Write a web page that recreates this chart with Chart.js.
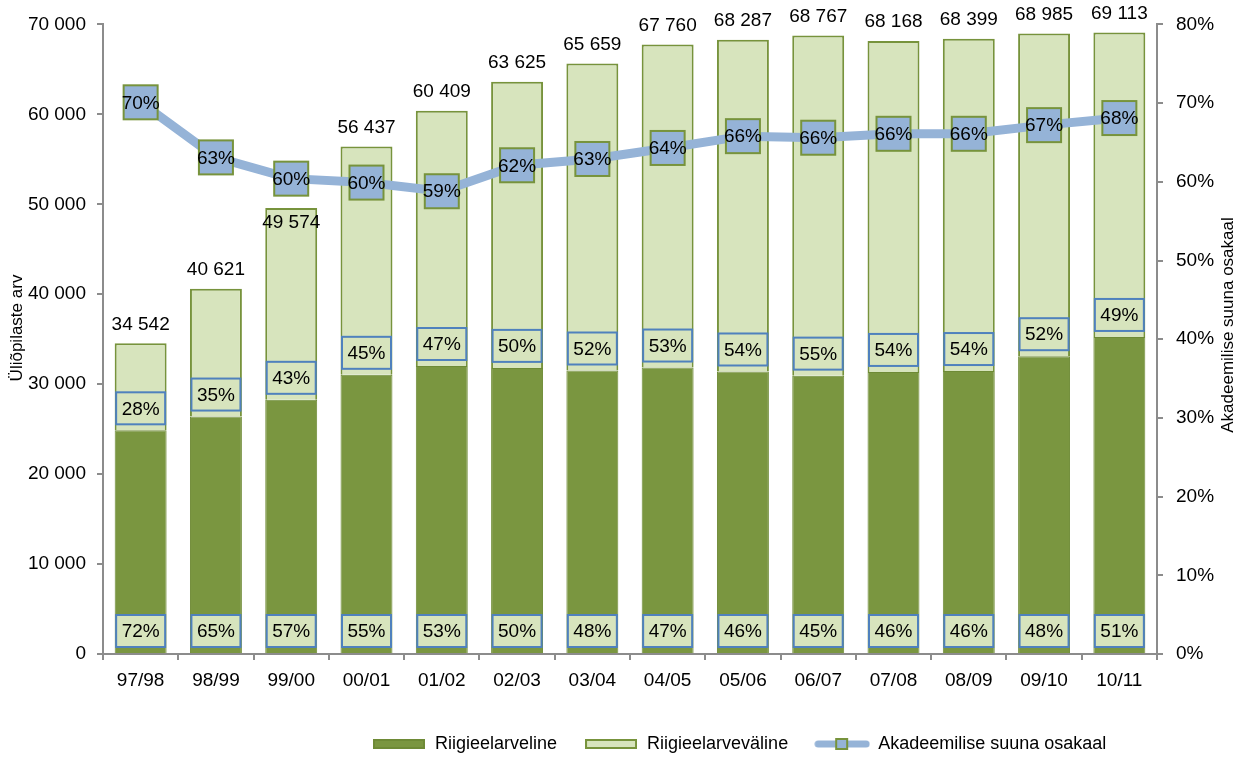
<!DOCTYPE html>
<html>
<head>
<meta charset="utf-8">
<script src="https://cdn.jsdelivr.net/npm/chart.js@4.4.1/dist/chart.umd.min.js"></script>
<style>
  body { margin: 0; background: #fff; }
  #wrap { width: 1245px; height: 757px; }
</style>
</head>
<body>
<div id="wrap"><canvas id="chart" width="1245" height="757"></canvas></div>
<script>
// Data
const years = ['97/98', '98/99', '99/00', '00/01', '01/02', '02/03', '03/04', '04/05', '05/06', '06/07', '07/08', '08/09', '09/10', '10/11'];
const riigiEelarveline = [24870, 26400, 28260, 31040, 32020, 31810, 31520, 31850, 31410, 30950, 31360, 31460, 33110, 35250];
const riigiEelarvevaline = [9672, 14221, 21314, 25397, 28389, 31815, 34139, 35910, 36877, 37817, 36808, 36939, 35875, 33863];
const akadeemilineOsakaal = [70.1, 63.1, 60.4, 59.9, 58.8, 62.1, 62.9, 64.3, 65.8, 65.6, 66.1, 66.1, 67.2, 68.1];
const leftTicks = [0, 10000, 20000, 30000, 40000, 50000, 60000, 70000];
const rightTicks = [0, 10, 20, 30, 40, 50, 60, 70, 80];

const DARK = '#7a9640';
const DARK_EDGE = '#6e8a36';
const LIGHT = '#d7e4bd';
const EDGE = '#77933c';
const BLUE = '#95b3d7';
const BOX_BLUE = '#4f81bd';
const AXIS = '#8c8c8c';
const FONT = "'Liberation Sans', Arial, sans-serif";

Chart.defaults.font.family = FONT;
Chart.defaults.font.size = 19;
Chart.defaults.color = '#000';

const fmt = v => String(Math.round(v)).replace(/\B(?=(\d{3})+(?!\d))/g, ' ');

// legend icons
function icon(w, h, draw) {
    const c = document.createElement('canvas');
    c.width = w; c.height = h;
    draw(c.getContext('2d'));
    return c;
}
const legendIcons = [
    icon(52, 10, g => { g.fillStyle = DARK; g.fillRect(0, 0, 52, 10); g.strokeStyle = DARK_EDGE; g.lineWidth = 2; g.strokeRect(1, 1, 50, 8); }),
    icon(52, 10, g => { g.fillStyle = LIGHT; g.fillRect(0, 0, 52, 10); g.strokeStyle = EDGE; g.lineWidth = 2; g.strokeRect(1, 1, 50, 8); }),
    icon(56, 12, g => {
        g.strokeStyle = BLUE; g.lineWidth = 7; g.lineCap = 'round';
        g.beginPath(); g.moveTo(4, 6); g.lineTo(52, 6); g.stroke();
        g.fillStyle = BLUE; g.fillRect(22, 1, 11, 10);
        g.strokeStyle = EDGE; g.lineWidth = 2; g.strokeRect(22, 1, 11, 10);
    })
];

function box(ctx, cx, top, w, h, fill, stroke, text) {
    ctx.fillStyle = fill;
    ctx.fillRect(cx - w / 2, top, w, h);
    ctx.strokeStyle = stroke;
    ctx.lineWidth = 2;
    ctx.strokeRect(cx - w / 2, top, w, h);
    ctx.fillStyle = '#000';
    ctx.fillText(text, cx, top + h / 2 + 1);
}

function rotatedText(ctx, text, x, y) {
    ctx.save();
    ctx.font = '17px ' + FONT;
    ctx.fillStyle = '#000';
    ctx.textAlign = 'center';
    ctx.textBaseline = 'middle';
    ctx.translate(x, y);
    ctx.rotate(-Math.PI / 2);
    ctx.fillText(text, 0, 0);
    ctx.restore();
}

const labelPlugin = {
    id: 'labels',
    afterLayout(chart) {
        // move legend row to where the reference has it
        const lg = chart.legend;
        const x0 = (lg.left + lg.options.labels.padding + lg.right - lg.lineWidths[0]) / 2;
        const dx = 372 - x0;
        lg.left += dx; lg.right += dx;
        lg.top += 6; lg.bottom += 6;
    },
    afterDatasetsDraw(chart) {
        const ctx = chart.ctx;
        ctx.save();
        ctx.font = '19px ' + FONT;
        ctx.textAlign = 'center';
        ctx.textBaseline = 'middle';
        const dark = chart.getDatasetMeta(0).data;
        const light = chart.getDatasetMeta(1).data;
        const line = chart.getDatasetMeta(2).data;
        years.forEach((y, i) => {
            const total = riigiEelarveline[i] + riigiEelarvevaline[i];
            const d = dark[i], l = light[i];
            box(ctx, d.x, d.base - 6 - 32, 49, 32, LIGHT, BOX_BLUE, Math.round(riigiEelarveline[i] / total * 100) + '%');
            box(ctx, l.x, l.base - 6 - 32, 49, 32, LIGHT, BOX_BLUE, Math.round(riigiEelarvevaline[i] / total * 100) + '%');
            ctx.fillStyle = '#000';
            // total above the bar, or inside its top when the line label is in the way
            let ty = l.y - 19;
            if (Math.abs(ty - line[i].y) < 30) ty = l.y + 15;
            ctx.fillText(fmt(total), l.x, ty);
        });
        line.forEach((p, i) => {
            box(ctx, p.x, p.y - 17, 34, 34, BLUE, EDGE, Math.round(akadeemilineOsakaal[i]) + '%');
        });
        ctx.restore();
    },
    afterDraw(chart) {
        rotatedText(chart.ctx, 'Üliõpilaste arv', 17, 328);
        rotatedText(chart.ctx, 'Akadeemilise suuna osakaal', 1228, 325);
    }
};

const axisGrid = { drawOnChartArea: false, color: AXIS, lineWidth: 2, tickLength: 6 };
const axisBorder = { color: AXIS, width: 2 };

new Chart(document.getElementById('chart'), {
    type: 'bar',
    data: {
        labels: years,
        datasets: [{
            label: 'Riigieelarveline',
            data: riigiEelarveline,
            backgroundColor: DARK,
            borderColor: DARK_EDGE,
            borderWidth: 1,
            stack: 's',
            yAxisID: 'y',
            order: 1,
            barPercentage: 0.69,
            categoryPercentage: 1
        }, {
            label: 'Riigieelarveväline',
            data: riigiEelarvevaline,
            backgroundColor: LIGHT,
            borderColor: EDGE,
            borderWidth: 2,
            stack: 's',
            yAxisID: 'y',
            order: 1,
            barPercentage: 0.69,
            categoryPercentage: 1
        }, {
            type: 'line',
            label: 'Akadeemilise suuna osakaal',
            data: akadeemilineOsakaal,
            borderColor: BLUE,
            borderWidth: 9,
            pointRadius: 0,
            pointHoverRadius: 0,
            tension: 0,
            yAxisID: 'y1',
            order: 0
        }]
    },
    options: {
        responsive: false,
        animation: false,
        layout: { padding: 0 },
        plugins: {
            tooltip: { enabled: false },
            legend: {
                position: 'bottom',
                sort: (a, b) => a.datasetIndex - b.datasetIndex,
                labels: {
                    usePointStyle: true,
                    pointStyleWidth: 54,
                    padding: 27,
                    font: { size: 18 },
                    generateLabels: chart => chart.data.datasets.map((ds, i) => ({
                        text: ds.label,
                        pointStyle: legendIcons[i],
                        datasetIndex: i,
                        fontColor: '#000',
                        lineWidth: 0,
                        hidden: false
                    }))
                }
            }
        },
        scales: {
            x: {
                stacked: true,
                offset: true,
                grid: Object.assign({ offset: true }, axisGrid),
                border: axisBorder,
                ticks: { padding: 9 },
                afterFit: s => { s.height = 48; }
            },
            y: {
                stacked: true,
                min: 0,
                max: 70000,
                grid: axisGrid,
                border: axisBorder,
                afterBuildTicks: s => { s.ticks = leftTicks.map(v => ({ value: v })); },
                ticks: { padding: 11, callback: v => fmt(v) },
                afterFit: s => { s.width = 103; }
            },
            y1: {
                position: 'right',
                min: 0,
                max: 80,
                grid: axisGrid,
                border: axisBorder,
                afterBuildTicks: s => { s.ticks = rightTicks.map(v => ({ value: v })); },
                ticks: { padding: 13, callback: v => v + '%' },
                afterFit: s => { s.width = 88; }
            }
        }
    },
    plugins: [labelPlugin]
});
</script>
</body>
</html>
